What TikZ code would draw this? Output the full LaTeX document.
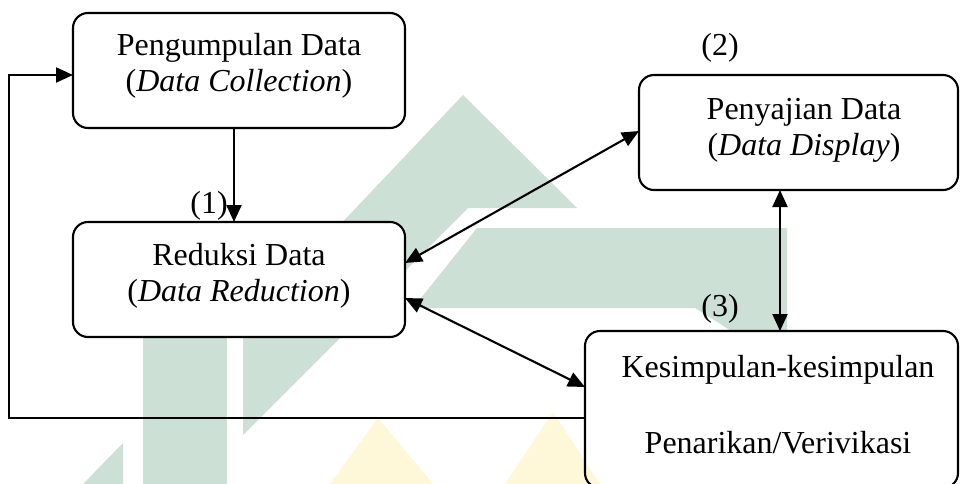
\documentclass[tikz,border=0pt]{standalone}
\usepackage{fontspec}
\setmainfont{Liberation Serif}
\usetikzlibrary{arrows.meta}
\definecolor{wmgreen}{RGB}{205,224,214}
\definecolor{wmyellow}{RGB}{254,247,216}
\begin{document}
\begin{tikzpicture}[x=1pt,y=-1pt,
  box/.style={draw, line width=2.1pt, rounded corners=15pt, inner sep=0pt, outer sep=0pt},
  txt/.style={anchor=base, inner sep=0pt, font=\fontsize{32}{36}\selectfont},
  conn/.style={line width=2.1pt},
  tip/.style={-{Triangle[length=17pt,width=15pt]}},
  dtip/.style={{Triangle[length=17pt,width=15pt]}-{Triangle[length=17pt,width=15pt]}}
]
\clip (0,0) rectangle (960,484);
\fill[white] (0,0) rectangle (960,484);
% watermark
\fill[wmgreen] (463,95) -- (577,208) -- (468,208) -- (398,278) -- (398,230) -- (335,230) -- cycle;
\fill[wmgreen] (413,308) -- (477,228) -- (787,228) -- (787,332) -- (733,332) -- (695,308) -- cycle;
\fill[wmgreen] (143,300) rectangle (227,484);
\fill[wmgreen] (243,300) -- (243,435) -- (378,300) -- cycle;
\fill[wmgreen] (123,443) -- (123,484) -- (83,484) -- cycle;
\fill[wmyellow] (330,484) -- (378,418) -- (433,484) -- cycle;
\fill[wmyellow] (505,484) -- (553,412) -- (600,484) -- cycle;
% boxes
\node[box, fill=white, minimum width=332pt, minimum height=115pt] (A) at (239,70.5) {};
\node[box, fill=white, minimum width=332pt, minimum height=115pt] (B) at (239,279.5) {};
\node[box, fill=white, minimum width=319pt, minimum height=115pt] (C) at (798.5,132.5) {};
\node[box, minimum width=373pt, minimum height=157pt] (D) at (771.5,409.5) {};
% texts
\node[txt] (a1) at (239,56) {Pengumpulan Data};
\node[txt] (a2) at (239,92) {(\textit{Data Collection})};
\node[txt] (b1) at (239,265) {Reduksi Data};
\node[txt] (b2) at (239,301) {(\textit{Data Reduction})};
\node[txt] (c1) at (804,119) {Penyajian Data};
\node[txt] (c2) at (804,155) {(\textit{Data Display})};
\node[txt] (d1) at (778,377) {Kesimpulan-kesimpulan};
\node[txt] (d2) at (778,453) {Penarikan/Verivikasi};
\node[txt] (l1) at (209,213) {(1)};
\node[txt] (l2) at (720,56) {(2)};
\node[txt] (l3) at (720,316) {(3)};
% connectors
\coordinate (fb1) at (9,418);
\coordinate (fb2) at (9,75);
\draw[conn,tip] ([xshift=-5pt]A.south) -- ([xshift=-5pt]B.north);
\draw[conn,dtip] ([yshift=16.5pt]B.east) -- ([yshift=1.5pt]C.west);
\draw[conn,dtip] ([yshift=-18.5pt]B.east) -- ([yshift=22.5pt]D.west);
\draw[conn,dtip] ([xshift=-18.5pt]C.south) -- ([xshift=8.5pt]D.north);
\draw[conn,tip] ([yshift=-8.5pt]D.west) -- (fb1) -- (fb2) -- ([yshift=-4.5pt]A.west);
\end{tikzpicture}
\end{document}
